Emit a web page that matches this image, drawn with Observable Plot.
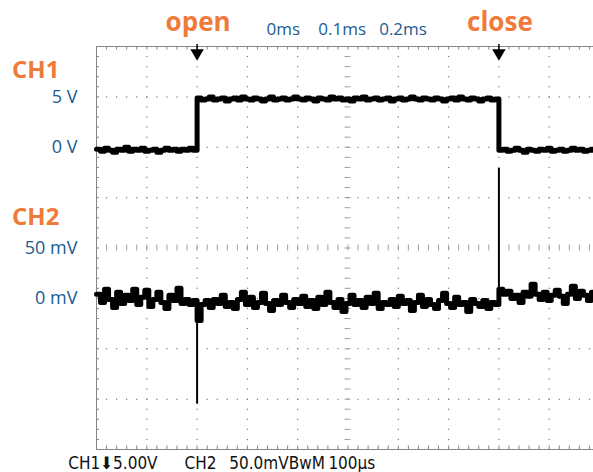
<!DOCTYPE html>
<html>
<head>
<meta charset="utf-8">
<script src="https://cdn.jsdelivr.net/npm/d3@7"></script>
<script src="https://cdn.jsdelivr.net/npm/@observablehq/plot@0.6"></script>
<style>
  html, body { margin: 0; padding: 0; background: #fff; overflow: hidden; }
</style>
</head>
<body>
<div id="chart"></div>
<script>
// ---- Oscilloscope settings ----
const timePerDiv = 100;      // µs per division
const ch1PerDiv = 5;         // V per division
const ch2PerDiv = 50;        // mV per division
const ch1Offset = 2;         // CH1 ground marker, divisions above centre
const ch2Offset = -1;        // CH2 ground marker, divisions above centre
const sampleStep = 8;        // µs between samples below

// ---- Events ----
const eventNames = ["open", "close"];
const eventTimes = [200, 800];   // µs from left edge of screen

// ---- CH1 samples (V), one every 8 µs from left edge ----
const ch1Values = [
  -0.2,-0.4,-0.1,-0.3,-0.5,-0.2,-0.3,0.0,-0.4,-0.2,-0.3,-0.1,-0.4,-0.3,-0.2,-0.5,-0.3,-0.1,-0.3,-0.2,-0.4,-0.2,-0.3,-0.1,-0.3,
  4.9,4.7,4.8,5.0,4.7,4.8,4.9,4.6,4.8,4.9,4.7,5.0,4.8,4.7,4.9,4.8,4.6,4.8,5.0,4.7,4.8,4.9,4.7,4.8,5.0,
  4.8,4.7,4.9,4.8,4.6,4.9,4.8,4.7,5.0,4.8,4.9,4.7,4.8,4.6,4.9,4.8,5.0,4.7,4.8,4.9,4.7,4.8,4.9,4.6,4.8,
  4.9,4.7,4.8,5.0,4.8,4.7,4.9,4.8,4.7,4.9,4.8,4.6,4.8,4.9,4.7,5.0,4.8,4.7,4.9,4.8,4.6,4.8,4.9,4.7,4.8,
  -0.3,-0.2,-0.4,-0.3,-0.1,-0.3,-0.5,-0.2,-0.3,-0.4,-0.2,-0.3,-0.1,-0.4,-0.3,-0.2,-0.4,-0.3,-0.1,-0.3,-0.2,-0.4,-0.3,-0.2,-0.3
];

// ---- CH2 samples (mV), one every 8 µs from left edge ----
const ch2Values = [
  4,-4,9,-1,-9,6,-5,3,-2,9,-6,1,8,-8,-1,6,-4,-10,3,-2,10,-5,-1,-6,-2,
  -22,-6,-2,-9,-1,-5,3,-8,-4,-10,-1,6,-6,1,-9,-4,5,-5,-12,-2,-6,3,-4,-9,-1,
  -5,2,-8,-2,-10,1,-6,6,-4,-9,-1,-13,-5,3,-6,-2,-9,1,-5,5,-10,-4,-6,-1,-8,
  2,-5,-2,-12,-4,3,-8,-1,-6,-10,-2,5,-5,-9,1,-6,-4,-13,-1,-5,-8,-2,-10,-4,-6,
  9,4,7,0,3,-4,6,2,14,4,-1,6,-2,3,8,2,-5,4,12,0,7,3,-2,6,2
];

// ---- CH2 switching spikes (mV) ----
const spikeTimes = [200, 800];
const spikeFrom = [-2, 2];
const spikeTo = [-105, 129];

// ---- Labels ----
const ch1TickValues = [5, 0];
const ch1TickLabels = ["5 V", "0 V"];
const ch2TickValues = [50, 0];
const ch2TickLabels = ["50 mV", "0 mV"];
const timeLabels = ["0ms", "0.1ms", "0.2ms"];
const timeLabelAt = [338, 441, 562];   // µs, left edges of the labels
const captionTexts = ["CH1\u2B075.00V", "CH2", "50.0mVBwM", "100\u00B5s"];
const captionAt = [-56, 175, 264, 461];  // µs

const orange = "#ef7a3a";
const blue = "#1a5c92";
const gridColor = "#858585";

// ---- Build tables ----
const ch1 = ch1Values.map((v, i) => ({t: i * sampleStep, y: ch1Offset + v / ch1PerDiv}));
const ch2 = ch2Values.map((v, i) => ({t: i * sampleStep, y: ch2Offset + v / ch2PerDiv}));
const spikes = spikeTimes.map((t, i) => ({t, y1: ch2Offset + spikeFrom[i] / ch2PerDiv, y2: ch2Offset + spikeTo[i] / ch2PerDiv}));

// graticule structure: 10 x 8 divisions, 5 minor marks per division
const minorX = d3.range(0, 10 * timePerDiv + 1, timePerDiv / 5);
const minorY = d3.range(-20, 21).map(k => k / 5);
const majorX = d3.range(1, 10).map(k => k * timePerDiv).filter(t => t !== 500);
const majorY = [-3, -2, -1, 1, 2, 3];
const gridDots = [];
for (const t of majorX) for (const y of minorY) gridDots.push({t, y});
for (const y of majorY) for (const t of minorX) gridDots.push({t, y});

const labelFont = "'Open Sans', sans-serif";
const capFont = "'Liberation Sans Narrow', 'DejaVu Sans Condensed', 'Liberation Sans', sans-serif";

const chart = Plot.plot({
  width: 593,
  height: 472,
  margin: 0,
  x: {domain: [0, 10 * timePerDiv], range: [96, 599], axis: null},
  y: {domain: [-4, 4], range: [449, 46], axis: null},
  style: {background: "#fff", overflow: "hidden"},
  marks: [
    // frame
    Plot.ruleY([4, -4], {x1: 0, x2: 10 * timePerDiv, stroke: gridColor, strokeWidth: 1}),
    Plot.ruleX([0], {y1: -4, y2: 4, stroke: gridColor, strokeWidth: 1}),
    Plot.ruleX(minorX, {y1: 4, y2: 3.93, stroke: gridColor}),
    Plot.ruleX(minorX, {y1: -4, y2: -3.93, stroke: gridColor}),
    Plot.ruleY(minorY, {x1: 0, x2: 6, stroke: gridColor}),
    // dotted graticule
    Plot.dot(gridDots, {x: "t", y: "y", r: 0.75, fill: gridColor, stroke: null}),
    // centre lines with longer marks
    Plot.ruleY(minorY, {x1: 494, x2: 506, stroke: gridColor, strokeWidth: 0.8}),
    Plot.ruleX(minorX, {y1: -0.06, y2: 0.06, stroke: gridColor, strokeWidth: 0.8}),
    // trigger markers
    Plot.ruleX(eventTimes, {y1: 4.04, y2: 3.86, stroke: "#000", strokeWidth: 1.5}),
    Plot.dot(eventTimes, {x: d => d, y: 3.87, symbol: "triangle", rotate: 180, r: 5, fill: "#000", stroke: null}),
    // traces
    Plot.ruleX(spikes, {x: "t", y1: "y1", y2: "y2", stroke: "#000", strokeWidth: 2}),
    Plot.line(ch2, {x: "t", y: "y", curve: "step-after", stroke: "#000", strokeWidth: 5}),
    Plot.line(ch1, {x: "t", y: "y", curve: "step-after", stroke: "#000", strokeWidth: 5}),
    // event labels
    Plot.text(eventNames, {x: (d, i) => eventTimes[i], y: 4.3, text: d => d, lineAnchor: "bottom",
      fill: orange, fontSize: 26, fontWeight: 700, fontFamily: labelFont, dx: 1}),
    // time labels
    Plot.text(timeLabels, {x: (d, i) => timeLabelAt[i], y: 4.23, text: d => d, lineAnchor: "bottom", textAnchor: "start",
      fill: blue, fontSize: 17, fontFamily: labelFont}),
    // channel names
    Plot.text(["CH1", "CH2"], {x: -168, y: [3.37, 0.45], text: d => d, lineAnchor: "bottom", textAnchor: "start",
      fill: orange, fontSize: 24, fontWeight: 700, fontFamily: labelFont}),
    // channel level labels
    Plot.text(ch1TickLabels, {x: -38, y: (d, i) => ch1Offset + ch1TickValues[i] / ch1PerDiv, text: d => d, textAnchor: "end",
      fill: blue, fontSize: 18, fontFamily: labelFont}),
    Plot.text(ch2TickLabels, {x: -38, y: (d, i) => ch2Offset + ch2TickValues[i] / ch2PerDiv, text: d => d, textAnchor: "end",
      fill: blue, fontSize: 18, fontFamily: labelFont}),
    // scope readout
    Plot.text(captionTexts, {x: (d, i) => captionAt[i], y: -4.38, text: d => d, lineAnchor: "bottom", textAnchor: "start",
      fill: "#111", fontSize: 17, fontFamily: capFont})
  ]
});
document.getElementById("chart").appendChild(chart);
</script>
</body>
</html>
